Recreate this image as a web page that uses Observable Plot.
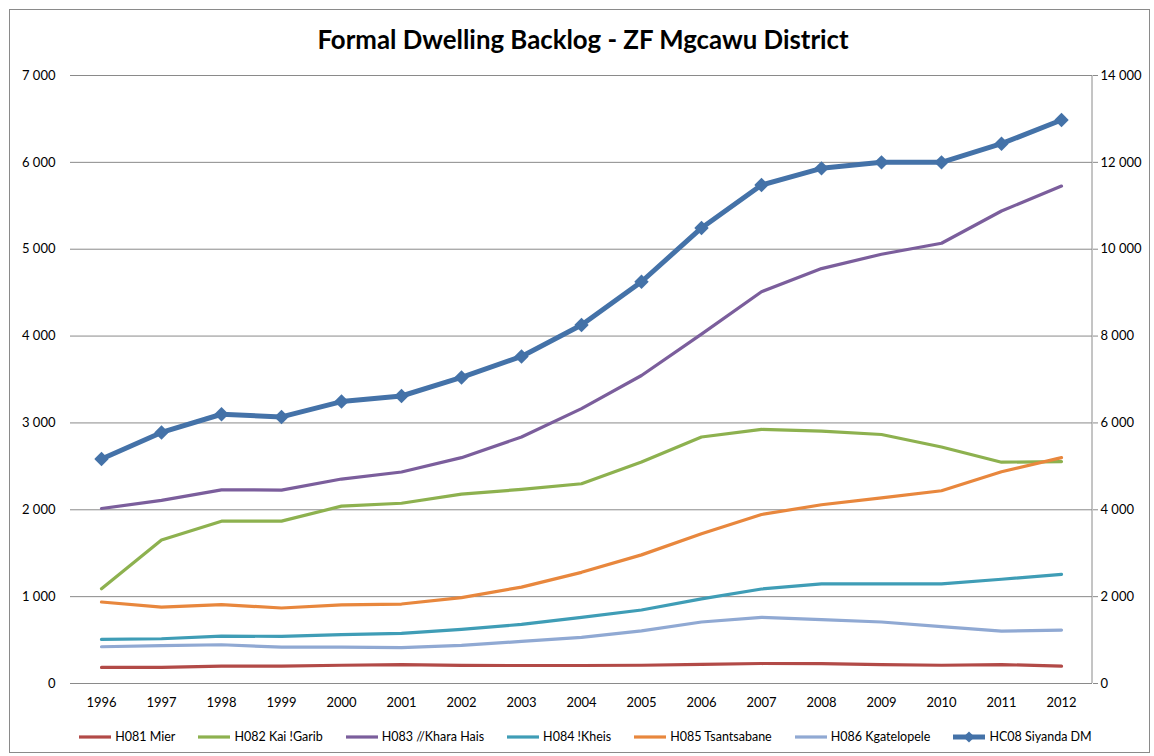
<!DOCTYPE html>
<html>
<head>
<meta charset="utf-8">
<script src="https://cdn.jsdelivr.net/npm/d3@7"></script>
<script src="https://cdn.jsdelivr.net/npm/@observablehq/plot@0.6"></script>
<style>
  html, body { margin: 0; padding: 0; background: #fff; }
  #page { position: relative; width: 1154px; height: 756px; overflow: hidden; font-family: Lato, "Open Sans", sans-serif; }
  #border { position: absolute; left: 9px; top: 9px; width: 1141px; height: 744px; border: 1px solid #8a8a8a; box-sizing: border-box; }
  #title { position: absolute; left: 0; width: 1166px; top: 24px; text-align: center; font-weight: bold; font-size: 25.8px; color: #000; }
  #chart { position: absolute; left: 0; top: 60px; }
  #legend { position: absolute; left: 70px; width: 1030px; top: 729px; display: flex; justify-content: center; gap: 22px; font-size: 12.5px; color: #000; }
  .item { display: flex; align-items: center; gap: 3px; white-space: nowrap; }
</style>
</head>
<body>
<div id="page">
  <div id="border"></div>
  <div id="title">Formal Dwelling Backlog - ZF Mgcawu District</div>
  <div id="chart"></div>
  <div id="legend"></div>
</div>
<script>
const years = ["1996","1997","1998","1999","2000","2001","2002","2003","2004","2005","2006","2007","2008","2009","2010","2011","2012"];

const mier        = [185,185,200,200,210,218,208,207,207,210,220,230,228,218,210,218,200];
const kaiGarib    = [1090,1652,1869,1869,2042,2075,2181,2235,2300,2550,2838,2925,2906,2867,2723,2548,2555];
const kharaHais   = [2015,2108,2230,2227,2354,2435,2600,2838,3165,3546,4023,4510,4777,4942,5069,5440,5727];
const kheis       = [508,515,546,542,562,577,623,681,762,846,975,1088,1146,1146,1146,1200,1257];
const tsantsabane = [938,880,908,869,905,915,989,1110,1280,1481,1723,1946,2058,2138,2219,2438,2600];
const kgatelopele = [423,435,446,419,419,412,438,485,531,605,708,762,735,708,654,604,615];
const siyandaDM   = [5170,5780,6200,6138,6492,6620,7047,7531,8253,9251,10490,11477,11862,12000,12000,12430,12976];

const seriesNames = ["H081 Mier","H082 Kai !Garib","H083 //Khara Hais","H084 !Kheis","H085 Tsantsabane","H086 Kgatelopele","HC08 Siyanda DM"];
const seriesColors = ["#b24a47","#8db14f","#7b5e9c","#3f9db6","#e8873d","#90a9d3","#4472a8"];
const leftTicks = [0,1000,2000,3000,4000,5000,6000,7000];
const rightTicks = [0,2000,4000,6000,8000,10000,12000,14000];

const leftSeries = [mier, kaiGarib, kharaHais, kheis, tsantsabane, kgatelopele];
const rows = [];
leftSeries.forEach((arr, s) => arr.forEach((v, i) => rows.push({series: seriesNames[s], year: years[i], value: v})));
const totalRows = siyandaDM.map((v, i) => ({series: seriesNames[6], year: years[i], value: v}));

const fmt = d3.formatLocale({decimal: ".", thousands: " ", grouping: [3], currency: ["", ""]}).format(",");
const ratio = rightTicks[rightTicks.length - 1] / leftTicks[leftTicks.length - 1];

const chart = Plot.plot({
  width: 1154,
  height: 670,
  marginTop: 15,
  marginBottom: 47,
  marginLeft: 70,
  marginRight: 62,
  style: {fontFamily: "Lato, 'Open Sans', sans-serif", fontSize: "13px", color: "#000", background: "transparent"},
  x: {type: "point", domain: years, padding: 0.5},
  y: {domain: [0, 7000]},
  color: {domain: seriesNames, range: seriesColors},
  marks: [
    Plot.ruleY(leftTicks, {stroke: "#8a8a8a", strokeWidth: 1, strokeOpacity: 1}),
    Plot.axisX({tickSize: 0, tickPadding: 14, fontSize: 13, label: null}),
    Plot.axisY(leftTicks, {anchor: "left", tickSize: 0, tickPadding: 15, tickFormat: fmt, fontSize: 13, label: null}),
    Plot.axisY(leftTicks, {anchor: "right", tickSize: 5, tickPadding: 3, tickFormat: d => fmt(d * ratio), fontSize: 13, label: null, stroke: "#8a8a8a"}),
    Plot.line(rows, {x: "year", y: "value", z: "series", stroke: "series", strokeWidth: 3.2, curve: "linear"}),
    Plot.line(totalRows, {x: "year", y: d => d.value / ratio, stroke: "series", strokeWidth: 5}),
    Plot.dot(totalRows, {x: "year", y: d => d.value / ratio, fill: "series", symbol: "diamond2", r: 6.5, stroke: null})
  ]
});

// right axis vertical line, placed with the chart's own scales
const xs = chart.scale("x"), ys = chart.scale("y");
const xr = xs.range[1];
d3.select(chart).insert("line", ":first-child")
  .attr("x1", xr).attr("x2", xr)
  .attr("y1", ys.apply(0)).attr("y2", ys.apply(7000))
  .attr("stroke", "#8a8a8a").attr("stroke-width", 1);

document.getElementById("chart").appendChild(chart);

// legend
const legend = d3.select("#legend");
seriesNames.forEach((name, i) => {
  const item = legend.append("div").attr("class", "item");
  const sw = item.append("svg").attr("width", 34).attr("height", 14);
  sw.append("line").attr("x1", 1).attr("x2", 33).attr("y1", 7).attr("y2", 7)
    .attr("stroke", seriesColors[i]).attr("stroke-width", i === 6 ? 5 : 3.2);
  if (i === 6) {
    sw.append("path").attr("d", d3.symbol(d3.symbolDiamond2, 80)()).attr("transform", "translate(17,7)").attr("fill", seriesColors[i]);
  }
  item.append("span").text(name);
});
</script>
</body>
</html>
